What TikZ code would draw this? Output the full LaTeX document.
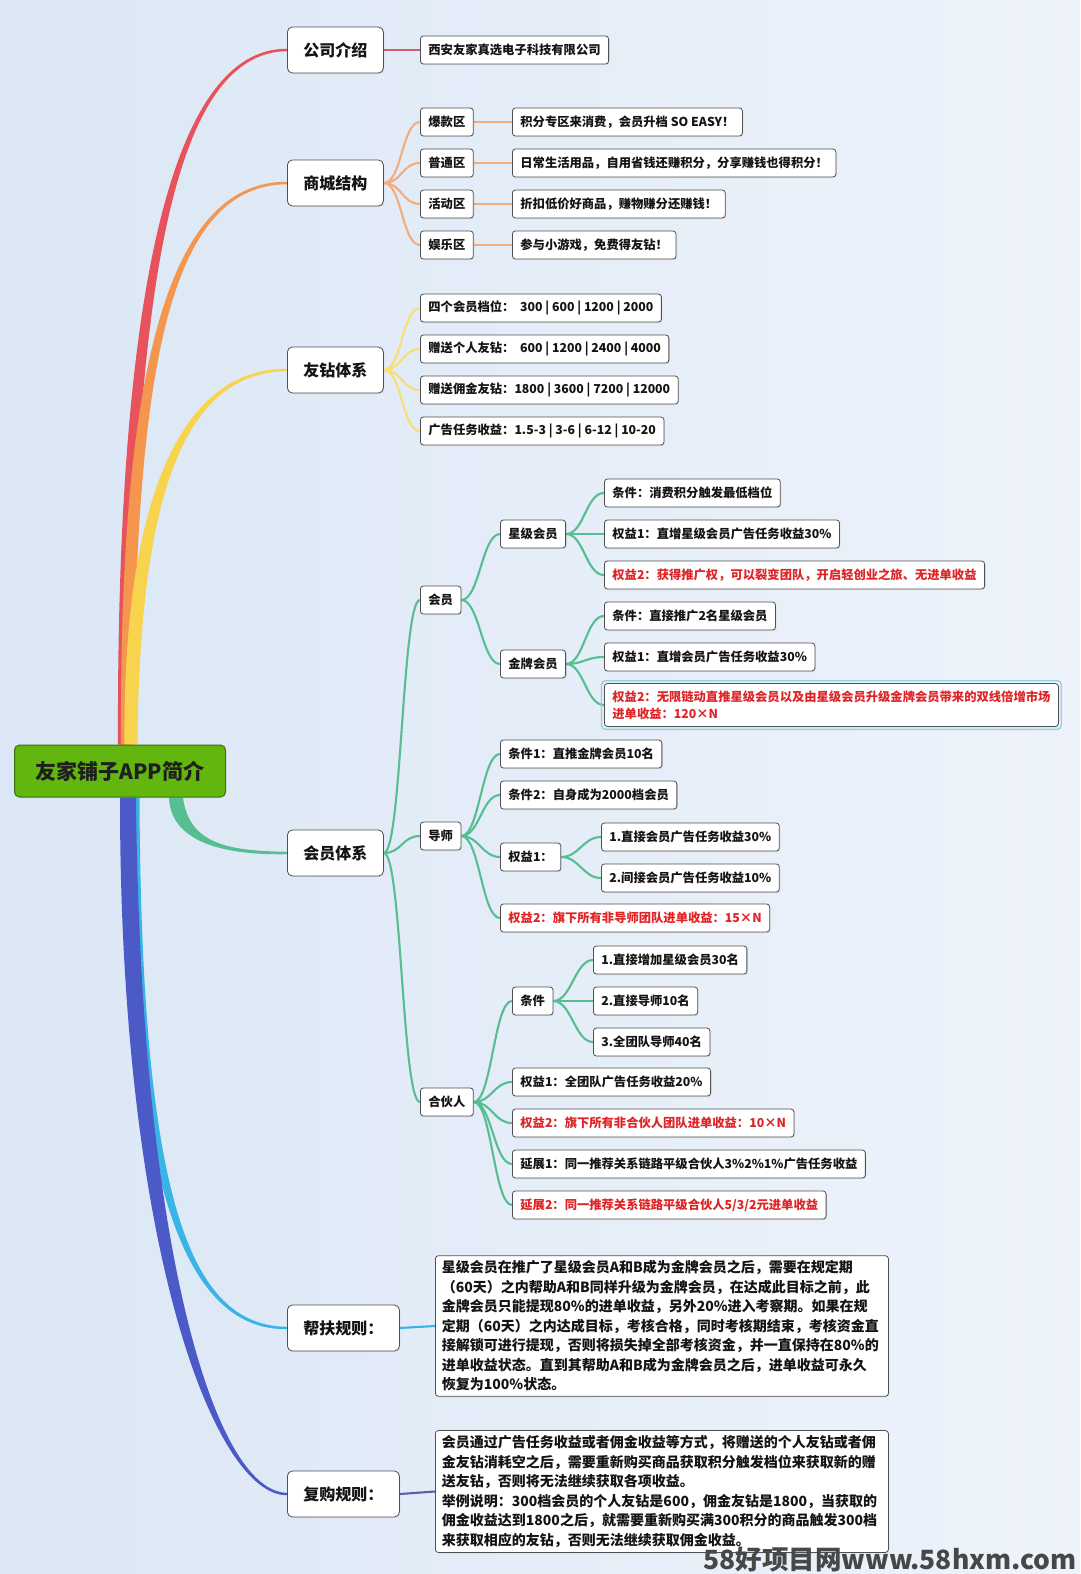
\documentclass[tikz,border=0pt]{standalone}
\usepackage{fontspec}
\setmainfont{Noto Sans CJK SC}
\usetikzlibrary{calc,shadows,backgrounds}
\definecolor{bgL}{RGB}{219,231,245}
\definecolor{bgR}{RGB}{238,243,251}
\definecolor{cRed}{RGB}{232,82,92}
\definecolor{cRedL}{RGB}{214,92,104}
\definecolor{cOra}{RGB}{244,150,78}
\definecolor{cPeach}{RGB}{244,172,122}
\definecolor{cYel}{RGB}{248,212,78}
\definecolor{cYelL}{RGB}{249,222,112}
\definecolor{cGrn}{RGB}{86,190,144}
\definecolor{cCya}{RGB}{58,180,228}
\definecolor{cBlu}{RGB}{76,90,200}
\definecolor{cBluL}{RGB}{90,96,170}
\definecolor{redtxt}{RGB}{222,36,38}
\definecolor{rootG}{RGB}{98,182,14}
\definecolor{rootB}{RGB}{60,110,20}
\definecolor{boxB}{RGB}{80,80,80}
\definecolor{selB}{RGB}{150,205,235}
% tapered branch: colour, start, c1, c2, end, signed half width
\newcommand\taper[6]{\fill[#1] ($#2+({-1*(#6)},0)$) .. controls ($#3+({-1.3*(#6)},0)$) and ($#4+(0,-2.2)$) .. ($#5+(0,-1.2)$) -- ($#5+(0,1.2)$) .. controls ($#4+(0,2.2)$) and ($#3+({1.3*(#6)},0)$) .. ($#2+({#6},0)$) -- cycle;}
\newcommand\cv[3]{\draw[lk,#1] (#2.east) .. controls +(18,0) and +(-18,0) .. (#3.west);}
\begin{document}
\begin{tikzpicture}[x=1pt,y=-1pt,
 base/.style={draw=boxB, fill=white, line width=0.8pt, text=black!92, drop shadow={opacity=0.12, shadow xshift=1pt, shadow yshift=-1.2pt}},
 lone/.style={base, rounded corners=5pt, minimum width=96pt, minimum height=46pt, inner sep=0pt, font=\bfseries\fontsize{16}{18}\selectfont, anchor=west},
 leaf/.style={base, rounded corners=3pt, minimum height=28pt, inner xsep=8pt, inner ysep=0pt, font=\bfseries\fontsize{12.3}{14}\selectfont, anchor=west},
 hot/.style={text=redtxt},
 para/.style={base, rounded corners=3pt, anchor=west, align=left, text width=440pt, inner xsep=6.5pt, inner ysep=5pt, font=\bfseries\fontsize{14}{19.5}\selectfont},
 lk/.style={line width=2.1pt},
]
\useasboundingbox (0,0) rectangle (1080,1574);

% root
\node[fill=rootG, draw=rootB, line width=1pt, rounded corners=5pt, minimum width=211pt, minimum height=52pt, text=black!88, font=\bfseries\fontsize{21}{24}\selectfont] (root) at (120,771) {友家铺子APP简介};

% level 1
\node[lone] (co) at (287,50) {公司介绍};
\node[lone] (mall) at (287,183) {商城结构};
\node[lone] (zs) at (287,370) {友钻体系};
\node[lone] (hy) at (287,853) {会员体系};
\node[lone, minimum width=112pt] (bf) at (287,1328) {帮扶规则：};
\node[lone, minimum width=112pt] (fg) at (287,1494) {复购规则：};

% 公司介绍
\node[leaf] (co1) at (420,50) {西安友家真选电子科技有限公司};

% 商城结构
\node[leaf] (m1) at (420,122) {爆款区};
\node[leaf] (m2) at (420,163) {普通区};
\node[leaf] (m3) at (420,204) {活动区};
\node[leaf] (m4) at (420,245) {娱乐区};
\node[leaf] (m1t) at (512,122) {积分专区来消费，会员升档 SO EASY！};
\node[leaf] (m2t) at (512,163) {日常生活用品，自用省钱还赚积分，分享赚钱也得积分！};
\node[leaf] (m3t) at (512,204) {折扣低价好商品，赚物赚分还赚钱！};
\node[leaf] (m4t) at (512,245) {参与小游戏，免费得友钻！};

% 友钻体系
\node[leaf] (z1) at (420,308) {四个会员档位：\ \ 300 | 600 | 1200 | 2000};
\node[leaf] (z2) at (420,349) {赠送个人友钻：\ \ 600 | 1200 | 2400 | 4000};
\node[leaf] (z3) at (420,390) {赠送佣金友钻：1800 | 3600 | 7200 | 12000};
\node[leaf] (z4) at (420,431) {广告任务收益：1.5-3 | 3-6 | 6-12 | 10-20};

% 会员体系
\node[leaf] (hy1) at (420,600) {会员};
\node[leaf] (hy2) at (420,836) {导师};
\node[leaf] (hy3) at (420,1102) {合伙人};

\node[leaf] (xj) at (500,534) {星级会员};
\node[leaf] (jp) at (500,664) {金牌会员};
\node[leaf] (xj1) at (604,493) {条件：消费积分触发最低档位};
\node[leaf] (xj2) at (604,534) {权益1：直增星级会员广告任务收益30\%};
\node[leaf,hot] (xj3) at (604,575) {权益2：获得推广权，可以裂变团队，开启轻创业之旅、无进单收益};
\node[leaf] (jp1) at (604,616) {条件：直接推广2名星级会员};
\node[leaf] (jp2) at (604,657) {权益1：直增会员广告任务收益30\%};
\node[leaf,hot,align=left,inner ysep=7pt,font=\bfseries\fontsize{12.3}{17}\selectfont] (jp3) at (604,705) {权益2：无限链动直推星级会员以及由星级会员升级金牌会员带来的双线倍增市场\\进单收益：120×N};
\draw[selB, line width=1.3pt, rounded corners=4pt] ($(jp3.north west)+(-2.5,-2.5)$) rectangle ($(jp3.south east)+(2.5,2.5)$);

\node[leaf] (ds1) at (500,754) {条件1：直推金牌会员10名};
\node[leaf] (ds2) at (500,795) {条件2：自身成为2000档会员};
\node[leaf] (ds3) at (500,857) {权益1：};
\node[leaf] (ds3a) at (601,837) {1.直接会员广告任务收益30\%};
\node[leaf] (ds3b) at (601,878) {2.间接会员广告任务收益10\%};
\node[leaf,hot] (ds4) at (500,918) {权益2：旗下所有非导师团队进单收益：15×N};

\node[leaf] (hh1) at (512,1001) {条件};
\node[leaf] (hh1a) at (593,960) {1.直接增加星级会员30名};
\node[leaf] (hh1b) at (593,1001) {2.直接导师10名};
\node[leaf] (hh1c) at (593,1042) {3.全团队导师40名};
\node[leaf] (hh2) at (512,1082) {权益1：全团队广告任务收益20\%};
\node[leaf,hot] (hh3) at (512,1123) {权益2：旗下所有非合伙人团队进单收益：10×N};
\node[leaf] (hh4) at (512,1164) {延展1：同一推荐关系链路平级合伙人3\%2\%1\%广告任务收益};
\node[leaf,hot] (hh5) at (512,1205) {延展2：同一推荐关系链路平级合伙人5/3/2元进单收益};

% rules
\node[para] (bft) at (435,1326) {星级会员在推广了星级会员A和B成为金牌会员之后，需要在规定期\\（60天）之内帮助A和B同样升级为金牌会员，在达成此目标之前，此\\金牌会员只能提现80\%的进单收益，另外20\%进入考察期。如果在规\\定期（60天）之内达成目标，考核合格，同时考核期结束，考核资金直\\接解锁可进行提现，否则将损失掉全部考核资金，并一直保持在80\%的\\进单收益状态。直到其帮助A和B成为金牌会员之后，进单收益可永久\\恢复为100\%状态。};
\node[para] (fgt) at (435,1491.5) {会员通过广告任务收益或者佣金收益等方式，将赠送的个人友钻或者佣\\金友钻消耗空之后，需要重新购买商品获取积分触发档位来获取新的赠\\送友钻，否则将无法继续获取各项收益。\\举例说明：300档会员的个人友钻是600，佣金友钻是1800，当获取的\\佣金收益达到1800之后，就需要重新购买满300积分的商品触发300档\\来获取相应的友钻，否则无法继续获取佣金收益。};

% watermark
\node[anchor=base east, inner sep=0pt, text=black!72, font=\bfseries\fontsize{26.5}{28}\selectfont] (wm) at (1077,1569) {58好项目网www.58hxm.com};

\begin{scope}[on background layer]
\fill[left color=bgL, right color=bgR] (0,0) rectangle (1080,1574);
% main tapered branches
\taper{cRed}{(root.north)+(4,0)}{(124,300)}{(170,50)}{(co.west)}{6}
\taper{cOra}{(root.north)+(7,0)}{(127,380)}{(165,183)}{(mall.west)}{6}
\taper{cYel}{(root.north)+(11,0)}{(131,480)}{(190,370)}{(zs.west)}{6.5}
\taper{cCya}{(root.south)+(14,0)}{(134,1200)}{(190,1328)}{(bf.west)}{-5.5}
\taper{cBlu}{(root.south)+(8,0)}{(130,1250)}{(215,1494)}{(fg.west)}{-8}
\taper{cGrn}{(root.south)+(56,0)}{(180,845)}{(230,853)}{(hy.west)}{-7}
% sub connectors
\draw[lk,cRedL] (co.east) -- (co1.west);
\cv{cPeach}{mall}{m1}\cv{cPeach}{mall}{m2}\cv{cPeach}{mall}{m3}\cv{cPeach}{mall}{m4}
\draw[lk,cPeach] (m1.east) -- (m1t.west);
\draw[lk,cPeach] (m2.east) -- (m2t.west);
\draw[lk,cPeach] (m3.east) -- (m3t.west);
\draw[lk,cPeach] (m4.east) -- (m4t.west);
\cv{cYelL}{zs}{z1}\cv{cYelL}{zs}{z2}\cv{cYelL}{zs}{z3}\cv{cYelL}{zs}{z4}
\cv{cGrn}{hy}{hy1}\cv{cGrn}{hy}{hy2}\cv{cGrn}{hy}{hy3}
\cv{cGrn}{hy1}{xj}\cv{cGrn}{hy1}{jp}
\cv{cGrn}{xj}{xj1}\cv{cGrn}{xj}{xj2}\cv{cGrn}{xj}{xj3}
\cv{cGrn}{jp}{jp1}\cv{cGrn}{jp}{jp2}\cv{cGrn}{jp}{jp3}
\cv{cGrn}{hy2}{ds1}\cv{cGrn}{hy2}{ds2}\cv{cGrn}{hy2}{ds3}\cv{cGrn}{hy2}{ds4}
\cv{cGrn}{ds3}{ds3a}\cv{cGrn}{ds3}{ds3b}
\cv{cGrn}{hy3}{hh1}\cv{cGrn}{hy3}{hh2}\cv{cGrn}{hy3}{hh3}\cv{cGrn}{hy3}{hh4}\cv{cGrn}{hy3}{hh5}
\cv{cGrn}{hh1}{hh1a}\cv{cGrn}{hh1}{hh1b}\cv{cGrn}{hh1}{hh1c}
\draw[lk,cCya] (bf.east) -- (bft.west);
\draw[lk,cBluL] (fg.east) -- (fgt.west);
\end{scope}
\end{tikzpicture}
\end{document}
